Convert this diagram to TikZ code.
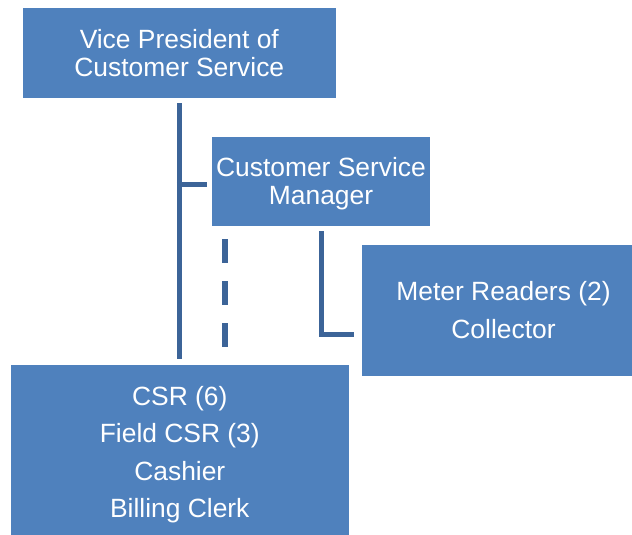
\documentclass[tikz,border=0pt]{standalone}
\usepackage{fontspec}
\setmainfont{Liberation Sans}
\definecolor{boxblue}{HTML}{4F81BD}
\definecolor{linkblue}{HTML}{3C6498}
\tikzset{
  unit/.style={draw=none, fill=boxblue, inner sep=0pt},
  caption/.style={text=white, align=center, inner sep=0pt},
  tight/.style={font=\fontsize{26.4}{27.5}\selectfont},
  loose/.style={font=\fontsize{26.4}{37.5}\selectfont},
  link/.style={draw=linkblue, line width=5pt},
  dotted link/.style={draw=linkblue, line width=6pt, dash pattern=on 24pt off 18pt}
}
\begin{document}
\begin{tikzpicture}[x=1pt, y=-1pt]
  \useasboundingbox (0,0) rectangle (632,535);

  % boxes
  \node[unit, minimum width=313.3pt, minimum height=89.7pt] (vp) at (179.3,52.8) {};
  \node[caption, tight] (vptext) at ([yshift=-0.5pt]vp.center)
    {Vice President of\\Customer Service};
  \node[unit, minimum width=218pt, minimum height=88.6pt] (csm) at (321,181.3) {};
  \node[caption, tight] (csmtext) at ([yshift=-2.5pt]csm.center)
    {Customer Service\\Manager};
  \node[unit, minimum width=270pt, minimum height=131pt] (mr) at (497,310.5) {};
  \node[caption, loose] (mrtext) at (503.5,310)
    {Meter Readers (2)\\Collector};
  \node[unit, minimum width=338.3pt, minimum height=170pt] (csr) at (179.8,450) {};
  \node[caption, loose] (csrtext) at ([yshift=-4.5pt]csr.center)
    {CSR (6)\\Field CSR (3)\\Cashier\\Billing Clerk};

  % reporting lines
  \draw[link, shorten <=5.3pt, shorten >=6pt] (vp.south) -- (vp.south |- csr.north);
  \coordinate (branch) at (vp.south |- 0,184.5);
  \draw[link, shorten >=5pt] ([xshift=-2.5pt]branch) -- (csm.west |- branch);
  \draw[dotted link, shorten <=13.4pt, shorten >=18pt]
    ([xshift=13pt]csm.south west) -- ([xshift=13pt]csm.south west |- csr.north);
  \draw[link, shorten <=5.4pt, shorten >=8pt] (csm.south) |- ([yshift=-23.5pt]mr.west);
\end{tikzpicture}
\end{document}
